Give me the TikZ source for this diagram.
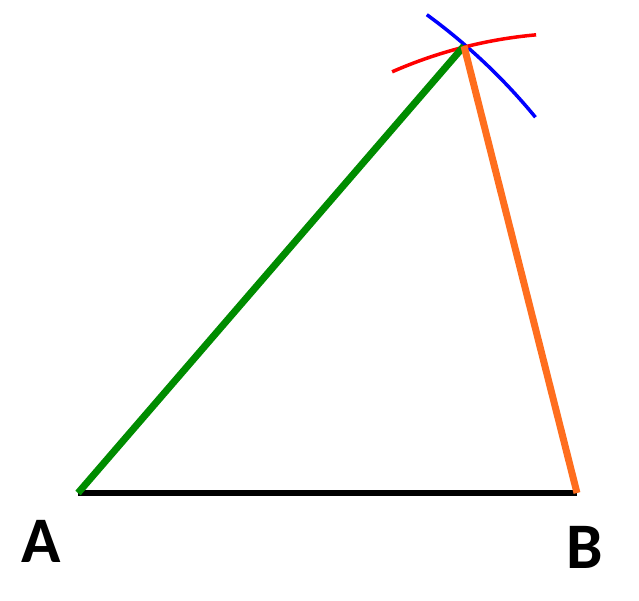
\documentclass[tikz,border=0pt]{standalone}
\usepackage{fontspec}
\setmainfont{Carlito}
\definecolor{sidegreen}{RGB}{0,140,0}
\definecolor{sideorange}{RGB}{255,110,30}
\begin{document}
\begin{tikzpicture}[x=1pt,y=1pt,
  side/.style={line width=7pt},
  arcline/.style={line width=3.5pt},
  lbl/.style={font=\fontsize{65}{70}\selectfont\bfseries, inner sep=0pt}]
\useasboundingbox (0,0) rectangle (639,600);
\coordinate (A) at (78,107);
\coordinate (B) at (577,107);
\coordinate (C) at (464,554);
% construction arcs
\draw[arcline, blue] ([shift={(39.4:592)}]A) arc[start angle=39.4, end angle=53.9, radius=592];
\draw[arcline, red] ([shift={(95.1:460)}]B) arc[start angle=95.1, end angle=113.7, radius=460];
% sides
\draw[side, black, line width=6pt] (A) -- (B);
\draw[side, sidegreen] (A) -- (C);
\draw[side, sideorange] (C) -- (B);
% labels
\node[lbl] (la) at (41,59) {A};
\node[lbl] (lb) at (585,53) {B};
\end{tikzpicture}
\end{document}
